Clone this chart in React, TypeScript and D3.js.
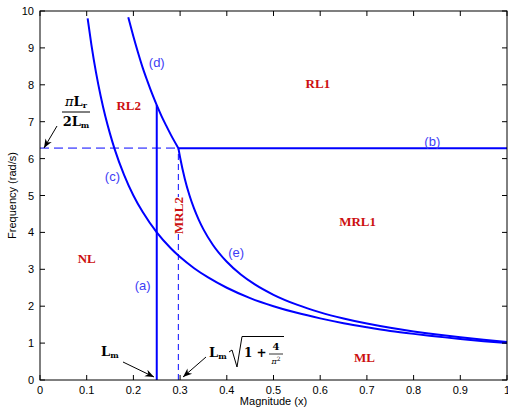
import React from "react";
import * as d3 from "d3";

// ---- data ----
const xTicks = [0, 0.1, 0.2, 0.3, 0.4, 0.5, 0.6, 0.7, 0.8, 0.9, 1];
const xTickLabels = ["0", "0.1", "0.2", "0.3", "0.4", "0.5", "0.6", "0.7", "0.8", "0.9", "1"];
const yTicks = [0, 1, 2, 3, 4, 5, 6, 7, 8, 9, 10];

// curve (c)
const curveCX = [0.102, 0.11, 0.12, 0.13, 0.14, 0.15, 0.16, 0.18, 0.2, 0.22, 0.25, 0.28, 0.3, 0.33, 0.36, 0.4, 0.45, 0.5, 0.55, 0.6, 0.65, 0.7, 0.75, 0.8, 0.85, 0.9, 0.95, 1.0];
const curveCY = [9.8, 9.09, 8.33, 7.69, 7.14, 6.67, 6.25, 5.56, 5.0, 4.55, 4.0, 3.57, 3.33, 3.03, 2.78, 2.5, 2.22, 2.0, 1.82, 1.67, 1.54, 1.43, 1.33, 1.25, 1.18, 1.11, 1.05, 1.0];

// curve (d)
const curveDX = [0.189, 0.2, 0.21, 0.22, 0.23, 0.24, 0.25, 0.26, 0.27, 0.28, 0.2963];
const curveDY = [9.83, 9.31, 8.87, 8.46, 8.1, 7.76, 7.45, 7.16, 6.9, 6.65, 6.283];

// curve (e)
const curveEX = [0.2963, 0.3, 0.31, 0.32, 0.33, 0.34, 0.35, 0.37, 0.4, 0.43, 0.46, 0.5, 0.55, 0.6, 0.65, 0.7, 0.75, 0.8, 0.85, 0.9, 0.95, 1.0];
const curveEY = [6.283, 6.03, 5.455, 5.006, 4.642, 4.34, 4.082, 3.666, 3.203, 2.858, 2.59, 2.309, 2.041, 1.833, 1.667, 1.529, 1.414, 1.316, 1.231, 1.157, 1.091, 1.033];

// boundary lines
const Lm = 0.25;
const LmSqrt = 0.2963;
const omegaB = 6.283;
const lineATop = 7.45;
const xMax = 1;

const regionNames = ["RL1", "RL2", "MRL1", "NL", "ML"];
const regionX = [0.595, 0.19, 0.68, 0.1, 0.695];
const regionY = [8.05, 7.45, 4.31, 3.31, 0.62];

const curveNames = ["(a)", "(b)", "(c)", "(d)", "(e)"];
const curveLabelX = [0.22, 0.84, 0.155, 0.25, 0.42];
const curveLabelY = [2.55, 6.45, 5.5, 8.6, 3.45];

const W = 508;
const H = 410;
const M = { left: 40, right: 507, top: 11, bottom: 380 };

export default function App() {
  const x = d3.scaleLinear().domain([0, 1]).range([M.left, M.right]);
  const y = d3.scaleLinear().domain([0, 10]).range([M.bottom, M.top]);
  const line = d3
    .line<[number, number]>()
    .x((d) => x(d[0]))
    .y((d) => y(d[1]))
    .curve(d3.curveMonotoneX);
  const zip = (a: number[], b: number[]) => a.map((v, i) => [v, b[i]] as [number, number]);
  const blue = "#0000ff";
  const labBlue = "#3d3df5";
  const red = "#cc1010";
  const sans = "'Liberation Sans', Arial, sans-serif";
  const serif = "'Liberation Serif', 'Times New Roman', serif";
  const mathF = "'DejaVu Serif', serif";
  const mrlY = 215.5;

  return (
    <svg width={W} height={H} style={{ position: "absolute", left: 0, top: 0 }}>
      <defs>
        <marker id="ah" viewBox="0 0 10 10" refX="10" refY="5" markerWidth="9" markerHeight="9" orient="auto" markerUnits="userSpaceOnUse">
          <path d="M0,1 L10,5 L0,9 L3,5 Z" fill="#000" />
        </marker>
      </defs>
      <rect x={0} y={0} width={W} height={H} fill="#fff" />

      {/* dashed guides */}
      <line x1={x(0)} x2={x(LmSqrt)} y1={y(omegaB)} y2={y(omegaB)} stroke="#7070ff" strokeWidth={1.6} strokeDasharray="9,5" />
      <line x1={x(LmSqrt)} x2={x(LmSqrt)} y1={y(0)} y2={y(omegaB)} stroke="#2020ff" strokeWidth={1.1} strokeDasharray="6,4" />

      {/* curves */}
      <path d={line(zip(curveCX, curveCY)) || ""} fill="none" stroke={blue} strokeWidth={2} />
      <path d={line(zip(curveDX, curveDY)) || ""} fill="none" stroke={blue} strokeWidth={2} />
      <path d={line(zip(curveEX, curveEY)) || ""} fill="none" stroke={blue} strokeWidth={2} />
      <line x1={x(Lm)} x2={x(Lm)} y1={y(0)} y2={y(lineATop)} stroke={blue} strokeWidth={2} />
      <line x1={x(LmSqrt)} x2={x(xMax)} y1={y(omegaB)} y2={y(omegaB)} stroke={blue} strokeWidth={2} />

      {/* axes box */}
      <rect x={M.left} y={M.top} width={M.right - M.left} height={M.bottom - M.top} fill="none" stroke="#000" strokeWidth={1} />
      {xTicks.map((t, i) => (
        <g key={"xt" + i}>
          <line x1={x(t)} x2={x(t)} y1={M.bottom} y2={M.bottom - 5} stroke="#000" />
          <line x1={x(t)} x2={x(t)} y1={M.top} y2={M.top + 5} stroke="#000" />
          <text x={x(t)} y={M.bottom + 14} textAnchor="middle" fontFamily={sans} fontSize={11} fill="#000">
            {xTickLabels[i]}
          </text>
        </g>
      ))}
      {yTicks.map((t, i) => (
        <g key={"yt" + i}>
          <line x1={M.left} x2={M.left + 5} y1={y(t)} y2={y(t)} stroke="#000" />
          <line x1={M.right} x2={M.right - 5} y1={y(t)} y2={y(t)} stroke="#000" />
          <text x={M.left - 6} y={y(t) + 4} textAnchor="end" fontFamily={sans} fontSize={11} fill="#000">
            {t}
          </text>
        </g>
      ))}
      <text x={(M.left + M.right) / 2} y={405} textAnchor="middle" fontFamily={sans} fontSize={11}>
        Magnitude (x)
      </text>
      <text transform={`translate(16,${(M.top + M.bottom) / 2}) rotate(-90)`} textAnchor="middle" fontFamily={sans} fontSize={11}>
        Frequency (rad/s)
      </text>

      {/* region labels */}
      {regionNames.map((n, i) => (
        <text key={n} x={x(regionX[i])} y={y(regionY[i]) + 5} textAnchor="middle" fontFamily={serif} fontWeight="bold" fontSize={13} fill={red}>
          {n}
        </text>
      ))}
      <rect x={x(LmSqrt) - 5.5} y={mrlY - 18.5} width={11} height={37} fill="#fff" />
      <text transform={`translate(${x(LmSqrt) + 4.5},${mrlY}) rotate(-90)`} textAnchor="middle" fontFamily={serif} fontWeight="bold" fontSize={13} fill={red}>
        MRL2
      </text>

      {/* curve labels */}
      {curveNames.map((n, i) => (
        <text key={n} x={x(curveLabelX[i])} y={y(curveLabelY[i]) + 4} textAnchor="middle" fontFamily={sans} fontSize={13} fill={labBlue}>
          {n}
        </text>
      ))}

      {/* annotation: pi Lr / 2 Lm */}
      <text x={76} y={106} textAnchor="middle" fontFamily={mathF} fontWeight="bold" fontSize={13}>
        <tspan fontStyle="italic" fontWeight="normal">π</tspan>L<tspan fontSize={8} dy={2}>r</tspan>
      </text>
      <line x1={62} x2={90} y1={112} y2={112} stroke="#000" strokeWidth={1} />
      <text x={76} y={126} textAnchor="middle" fontFamily={mathF} fontWeight="bold" fontSize={13}>
        2L<tspan fontSize={8} dy={2}>m</tspan>
      </text>
      <line x1={57} y1={126} x2={44} y2={148} stroke="#000" strokeWidth={1} markerEnd="url(#ah)" />

      {/* annotation: Lm */}
      <text x={101} y={356} fontFamily={mathF} fontWeight="bold" fontSize={13}>
        L<tspan fontSize={8} dy={2}>m</tspan>
      </text>
      <line x1={123} y1={362} x2={154} y2={377} stroke="#000" strokeWidth={1} markerEnd="url(#ah)" />

      {/* annotation: Lm sqrt(1 + 4/pi^2) */}
      <text x={209} y={357} fontFamily={mathF} fontWeight="bold" fontSize={13}>
        L<tspan fontSize={8} dy={2}>m</tspan>
      </text>
      <path d="M229,352 L232,350 L237,367 L242,336.5 L284,336.5" fill="none" stroke="#000" strokeWidth={1} />
      <text x={244} y={357} fontFamily={mathF} fontWeight="bold" fontSize={12}>
        1 +
      </text>
      <text x={276} y={350} textAnchor="middle" fontFamily={mathF} fontWeight="bold" fontSize={10}>
        4
      </text>
      <line x1={269} x2={283} y1={354} y2={354} stroke="#000" strokeWidth={0.8} />
      <text x={276} y={364} textAnchor="middle" fontFamily={mathF} fontSize={8}>
        <tspan fontStyle="italic">π</tspan>
        <tspan fontSize={6} dy={-3}>2</tspan>
      </text>
      <line x1={206} y1={357} x2={183} y2={377} stroke="#000" strokeWidth={1} markerEnd="url(#ah)" />
    </svg>
  );
}
